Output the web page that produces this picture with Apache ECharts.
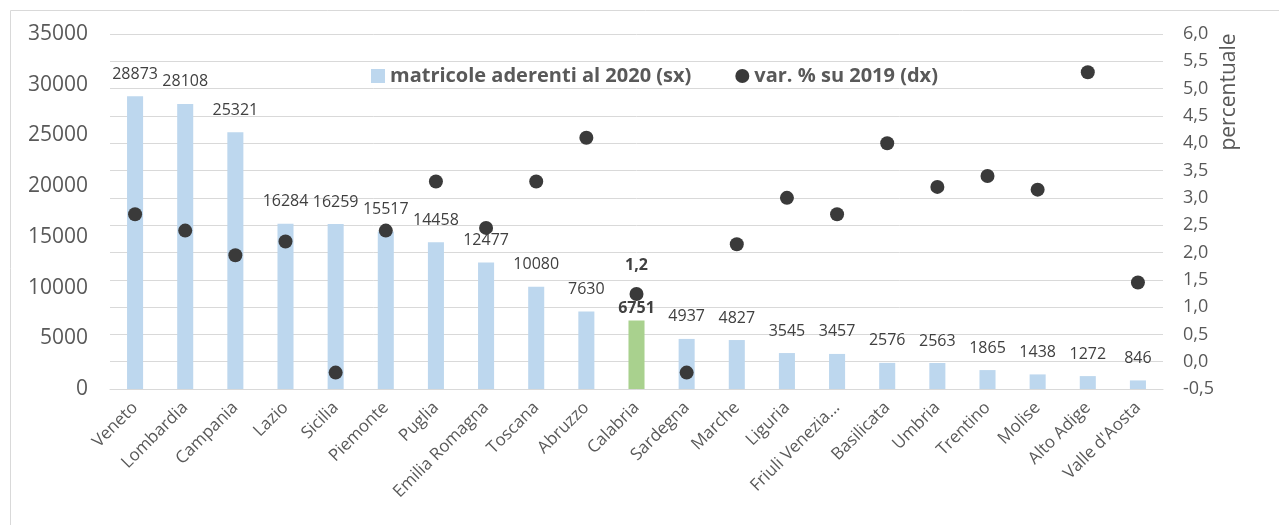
<!DOCTYPE html>
<html>
<head>
<meta charset="utf-8">
<script src="https://cdn.jsdelivr.net/npm/echarts@6/dist/echarts.min.js"></script>
<style>html,body{margin:0;padding:0;background:#fff}#c{width:1279px;height:525px}</style>
</head>
<body>
<div id="c"></div>
<script>
const categories = ["Veneto","Lombardia","Campania","Lazio","Sicilia","Piemonte","Puglia","Emilia Romagna","Toscana","Abruzzo","Calabria","Sardegna","Marche","Liguria","Friuli Venezia Giulia","Basilicata","Umbria","Trentino","Molise","Alto Adige","Valle d'Aosta"];
const matricole = [28873,28108,25321,16284,16259,15517,14458,12477,10080,7630,6751,4937,4827,3545,3457,2576,2563,1865,1438,1272,846];
const varPerc = [2.7,2.4,1.95,2.2,-0.2,2.4,3.3,2.45,3.3,4.1,1.24,-0.2,2.15,3.0,2.7,4.0,3.2,3.4,3.15,5.3,1.45];
const leftTicks = {min:0, max:35000, interval:5000};
const rightTicks = {min:-0.5, max:6.0, interval:0.5};
const highlight = "Calabria";
const seriesNames = ["matricole aderenti al 2020 (sx)","var. % su 2019 (dx)"];
const rightAxisName = "percentuale";

const FONT = "Open Sans";
const chart = echarts.init(document.getElementById('c'));
const barData = matricole.map((v,i)=> categories[i]===highlight ? {
  value:v, itemStyle:{color:'#A9D18E'},
  label:{fontWeight:'bold', color:'#404040', distance:4}
} : v);
const dotData = varPerc.map((v,i)=> categories[i]===highlight ? {
  value:v, label:{show:true, position:'top', distance:14, fontWeight:'bold', color:'#404040', fontSize:16, fontFamily:FONT,
    formatter:p=>p.value.toFixed(1).replace('.',',')}
} : v);

chart.setOption({
  animation:false,
  textStyle:{fontFamily:FONT},
  graphic:[
    {type:'rect', shape:{x:10.5,y:10.5,width:1400,height:700}, style:{fill:'none', stroke:'#d9d9d9', lineWidth:1}, z:-10},
    {type:'text', x:1229, y:92, rotation:Math.PI/2, style:{text:rightAxisName, fill:'#595959', fontSize:21, fontFamily:FONT, align:'center', verticalAlign:'middle'}}
  ],
  legend:{
    top:61, left:366, itemGap:44, itemWidth:14, itemHeight:14,
    textStyle:{fontSize:20, fontWeight:'bold', color:'#595959', fontFamily:FONT},
    data:[{name:seriesNames[0], icon:'rect'},{name:seriesNames[1], icon:'circle'}]
  },
  grid:{left:110, right:116, top:34, bottom:136},
  xAxis:{
    type:'category', data:categories,
    axisLine:{lineStyle:{color:'#d9d9d9', width:1}},
    axisTick:{show:false},
    axisLabel:{rotate:45, fontSize:17, color:'#595959', fontFamily:FONT, margin:16, interval:0,
      formatter:v=> v.length>16 ? v.slice(0,14)+'...' : v}
  },
  yAxis:[
    {type:'value', min:leftTicks.min, max:leftTicks.max, interval:leftTicks.interval, position:'left',
      splitLine:{show:false}, axisLine:{show:false}, axisTick:{show:false},
      axisLabel:{fontSize:21, color:'#595959', fontFamily:FONT, margin:22, formatter:v=>String(v)}},
    {type:'value', min:rightTicks.min, max:rightTicks.max, interval:rightTicks.interval, position:'right',
      splitLine:{show:true, lineStyle:{color:'#d9d9d9', width:1}}, axisLine:{show:false}, axisTick:{show:false},
      axisLabel:{fontSize:18, color:'#595959', fontFamily:FONT, margin:20,
        formatter:v=> v.toFixed(1).replace('.',',')}}
  ],
  series:[
    {name:seriesNames[0], type:'bar', yAxisIndex:0, data:barData, barWidth:'32%',
      itemStyle:{color:'#BDD7EE'},
      label:{show:true, position:'top', distance:14, fontSize:16, color:'#404040', fontFamily:FONT}},
    {name:seriesNames[1], type:'scatter', yAxisIndex:1, data:dotData, symbol:'circle', symbolSize:14,
      itemStyle:{color:'#3a3a3a', opacity:1}, z:5}
  ]
});
</script>
</body>
</html>
